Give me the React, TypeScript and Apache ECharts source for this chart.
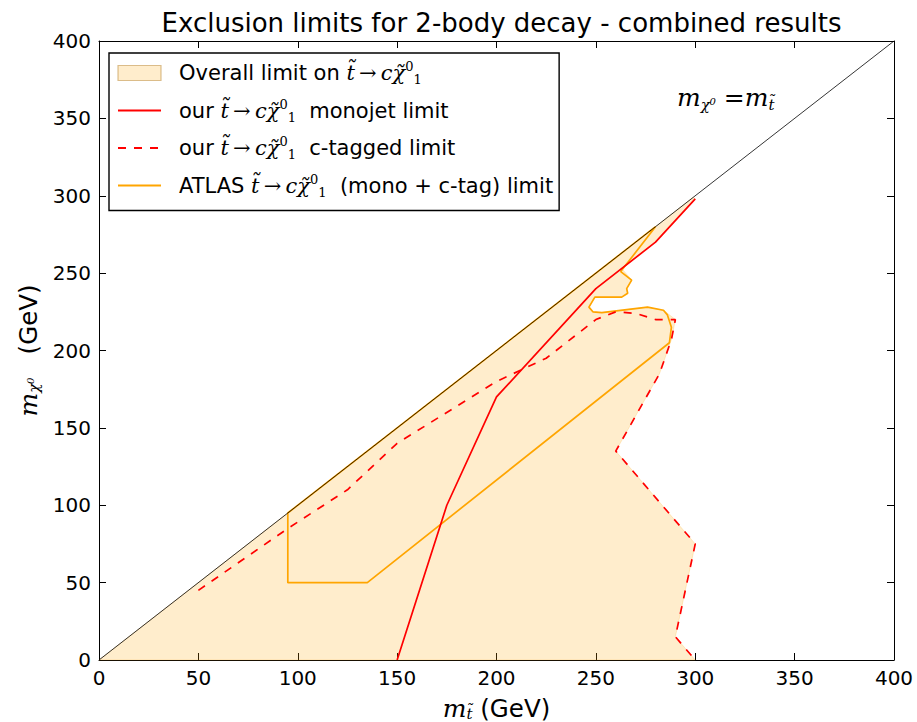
import React, { useEffect, useRef } from "react";
import * as echarts from "echarts";

// ---- data (GeV) ----
const axisMin = 0;
const axisMax = 400;
const tickStep = 50;

const diagonal: number[][] = [[0, 0], [400, 400]];

const overallLimit: number[][] = [
  [0, 0], [299, 299], [300, 298], [280, 270], [263, 253], [268, 245.5], [265.5, 240],
  [266, 237], [263, 234.5], [249.5, 234.5], [246.5, 228], [248.5, 225], [253, 224.5],
  [276, 228], [284, 226], [290, 220], [288, 207], [282, 185], [260, 135], [300, 75],
  [290, 15], [300, 0], [0, 0],
];

const monojetLimit: number[][] = [
  [150, 0], [175, 100], [200, 170], [250, 240], [280, 270], [300, 298],
];

const ctaggedLimit: number[][] = [
  [50, 45], [95, 85], [125, 110], [150, 140], [200, 180], [225, 195], [250, 220],
  [260, 225], [270, 224], [280, 220], [290, 220], [288, 207], [282, 185], [260, 135],
  [300, 75], [290, 15], [300, 0],
];

const atlasLimit: number[][] = [
  [280, 280], [262.5, 251], [268, 245.5], [265.5, 240], [266, 237], [263, 234.5],
  [249.5, 234.5], [246.5, 228], [248.5, 225], [253, 224.5], [276, 228], [284, 226],
  [286, 223], [288, 215], [287, 205], [135, 50], [95, 50], [95, 95], [280, 280],
];

const seriesNames = ["overall", "monojet", "ctagged", "atlas"];

const FILL = "rgba(255,165,0,0.2)";
const SANS = "DejaVu Sans";
const SERIF = "DejaVu Serif";

const MATH = "{m|t̃\u2009→\u2009cχ̃}{sp|0}{sb|1}";
const legendLabels: Record<string, string> = {
  overall: "{t|Overall limit on }" + MATH,
  monojet: "{t|our }" + MATH + "{t|  monojet limit}",
  ctagged: "{t|our }" + MATH + "{t|  c-tagged limit}",
  atlas: "{t|ATLAS }" + MATH + "{t|  (mono + c-tag) limit}",
};

export default function App() {
  const ref = useRef<HTMLDivElement>(null);

  useEffect(() => {
    if (!ref.current) return;
    const chart = echarts.init(ref.current, undefined, { renderer: "svg" });

    const axisCommon = {
      type: "value" as const,
      min: axisMin,
      max: axisMax,
      interval: tickStep,
      splitLine: { show: false },
      axisLine: { show: true, onZero: false, lineStyle: { color: "#000", width: 1 } },
      axisTick: { show: true, inside: true, length: 7, lineStyle: { color: "#000", width: 1 } },
    };
    const labelStyle = { fontFamily: SANS, fontSize: 20, color: "#000" };
    const nameRich = {
      m: { fontFamily: SERIF, fontStyle: "italic", fontSize: 25, lineHeight: 26, color: "#000" },
      sb: { fontFamily: SERIF, fontStyle: "italic", fontSize: 15, lineHeight: 15, verticalAlign: "bottom", color: "#000" },
      t: { fontFamily: SANS, fontSize: 24.5, lineHeight: 26, color: "#000" },
    };
    const hidden = { opacity: 0 };

    const option: any = {
      animation: false,
      backgroundColor: "#fff",
      title: {
        text: "Exclusion limits for 2-body decay - combined results",
        left: 496.5,
        top: 5,
        textAlign: "center",
        textStyle: { fontFamily: SANS, fontSize: 26, fontWeight: "normal", color: "#000" },
      },
      grid: { left: 99, right: 23, top: 41, bottom: 62, containLabel: false, outerBoundsMode: "none" },
      xAxis: [
        {
          ...axisCommon,
          position: "bottom",
          axisLabel: { ...labelStyle, margin: 8 },
          name: "{m|m}{sb|t̃}{t| (GeV)}",
          nameLocation: "middle",
          nameGap: 35,
          nameTextStyle: { rich: nameRich },
        },
        { ...axisCommon, position: "top", axisLabel: { show: false } },
      ],
      yAxis: [
        {
          ...axisCommon,
          position: "left",
          axisLabel: { ...labelStyle, margin: 8 },
          name: "{m|m}{sb|χ⁰}{t|   (GeV)}",
          nameLocation: "middle",
          nameGap: 57,
          nameTextStyle: { rich: nameRich },
        },
        { ...axisCommon, position: "right", axisLabel: { show: false } },
      ],
      legend: {
        orient: "vertical",
        left: 109,
        top: 53,
        padding: [7, 6, 12, 8],
        itemWidth: 43,
        itemHeight: 15,
        itemGap: 11.5,
        borderColor: "#000",
        borderWidth: 1.4,
        backgroundColor: "#fff",
        selectedMode: false,
        formatter: (name: string) => legendLabels[name] || name,
        textStyle: {
          color: "#000",
          padding: [0, 0, 0, 13],
          rich: {
            t: { fontFamily: SANS, fontSize: 21, lineHeight: 26, color: "#000" },
            m: { fontFamily: SERIF, fontStyle: "italic", fontSize: 21, lineHeight: 26, color: "#000" },
            sp: { fontFamily: SERIF, fontSize: 13, lineHeight: 13, verticalAlign: "top", color: "#000" },
            sb: { fontFamily: SERIF, fontSize: 13, lineHeight: 13, verticalAlign: "bottom", color: "#000" },
          },
        },
        data: [
          { name: "overall", icon: "rect", itemStyle: { color: FILL, borderColor: "rgba(190,140,60,0.55)", borderWidth: 1.2 } },
          { name: "monojet", itemStyle: hidden },
          { name: "ctagged", itemStyle: hidden },
          { name: "atlas", itemStyle: hidden },
        ],
      },
      graphic: [
        {
          type: "text",
          x: 677,
          y: 82,
          silent: true,
          style: {
            text: "{m|m}{sb|χ⁰}{m| =m}{sb|t̃}",
            rich: {
              m: { fontFamily: SERIF, fontStyle: "italic", fontSize: 25, lineHeight: 30, fill: "#000" },
              sb: { fontFamily: SERIF, fontStyle: "italic", fontSize: 15, lineHeight: 15, verticalAlign: "bottom", fill: "#000" },
            },
          },
        },
      ],
      series: [
        {
          name: seriesNames[0],
          type: "custom",
          data: overallLimit,
          encode: { x: 0, y: 1 },
          silent: true,
          z: 1,
          itemStyle: { color: FILL },
          renderItem: (params: any, api: any) => {
            if (params.dataIndex !== 0) return { type: "group", children: [] };
            const pts = overallLimit.map((p) => api.coord(p));
            return {
              type: "polygon",
              shape: { points: pts },
              style: { fill: FILL, stroke: "rgba(255,165,0,0.25)", lineWidth: 0.8 },
            };
          },
        },
        {
          name: seriesNames[3],
          type: "line",
          data: atlasLimit,
          symbol: "none",
          z: 2,
          lineStyle: { color: "#ffa500", width: 1.7 },
          itemStyle: { color: "#ffa500" },
        },
        {
          name: seriesNames[1],
          type: "line",
          data: monojetLimit,
          symbol: "none",
          z: 3,
          lineStyle: { color: "#ff0000", width: 1.7 },
          itemStyle: { color: "#ff0000" },
        },
        {
          name: seriesNames[2],
          type: "line",
          data: ctaggedLimit,
          symbol: "none",
          z: 3,
          lineStyle: { color: "#ff0000", width: 1.7, type: [8, 8] },
          itemStyle: { color: "#ff0000" },
        },
        {
          name: "diagonal",
          type: "line",
          data: diagonal,
          symbol: "none",
          z: 4,
          lineStyle: { color: "#000", width: 0.8 },
          itemStyle: { color: "#000" },
        },
      ],
    };

    chart.setOption(option);
    return () => chart.dispose();
  }, []);

  return (
    <div
      ref={ref}
      style={{ position: "absolute", left: 0, top: 0, width: 917, height: 722, background: "#fff" }}
    />
  );
}
